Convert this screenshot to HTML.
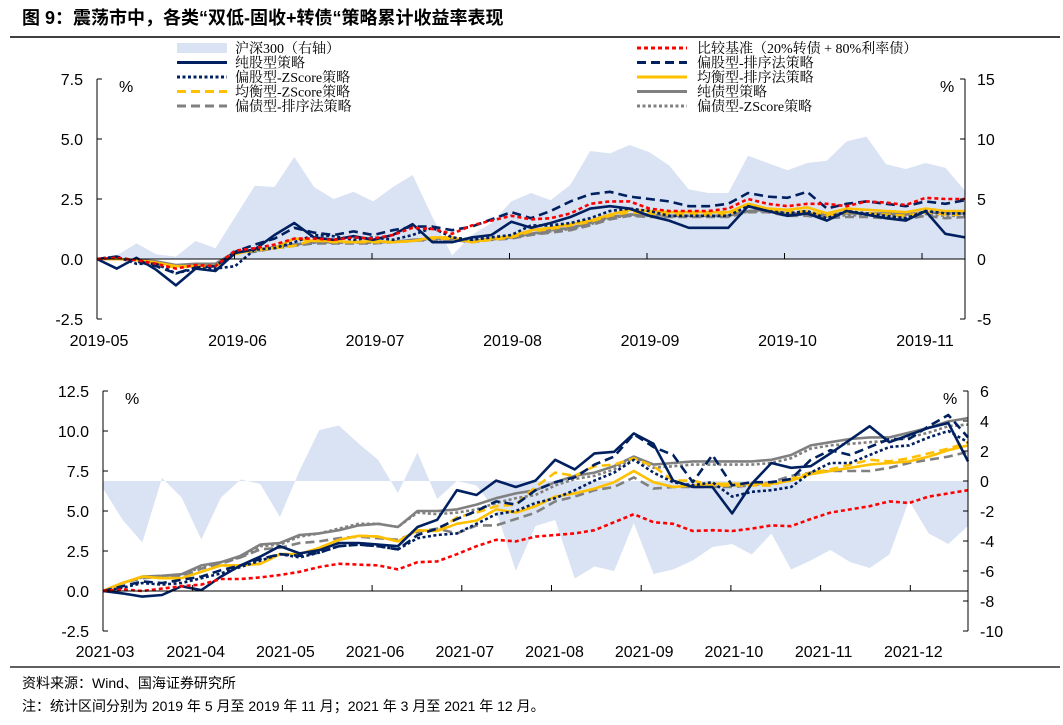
<!DOCTYPE html>
<html><head><meta charset="utf-8">
<style>
html,body{margin:0;padding:0;background:#fff;}
svg{display:block;}
.ax{font-family:"Liberation Sans",Arial,sans-serif;font-size:16px;fill:#000;}
.lg{font-family:"Liberation Serif","Noto Serif CJK SC",serif;font-size:14px;fill:#000;}
.ft{font-family:"Liberation Sans","Noto Sans CJK SC",sans-serif;font-size:14px;fill:#000;}
</style></head>
<body>
<svg id="c" width="1063" height="725" viewBox="0 0 1063 725" xmlns="http://www.w3.org/2000/svg">
<text x="22" y="24" style="font-family:'Liberation Sans','Noto Sans CJK SC',sans-serif;font-size:18px;font-weight:bold">图 9：震荡市中，各类“双低-固收+转债“策略累计收益率表现</text>
<line x1="10" y1="37" x2="1060" y2="37" stroke="#000" stroke-width="1.5"/>
<g id="legend"></g>
<g id="top"></g>
<g id="bot"></g>
<line x1="10" y1="667" x2="1060" y2="667" stroke="#000" stroke-width="1.2"/>
<text x="22" y="688" class="ft">资料来源：Wind、国海证券研究所</text>
<text x="22" y="711" class="ft">注：统计区间分别为 2019 年 5 月至 2019 年 11 月；2021 年 3 月至 2021 年 12 月。</text>
</svg>
<script>
// ---------- 2019 chart data ----------
const topMonths = ["2019-05","2019-06","2019-07","2019-08","2019-09","2019-10","2019-11"];
const topLeftTicks = [7.5,5.0,2.5,0.0,-2.5];
const topRightTicks = [15,10,5,0,-5];
const topHs300 = [0,0.3,1.3,0.4,0.2,1.5,0.9,3.5,6.1,6.0,8.5,6.0,5.0,5.6,4.8,6.0,7.0,3.5,0.3,2.0,3.0,4.8,5.5,4.9,6.2,9.0,8.8,9.5,8.9,7.8,5.8,5.5,5.5,8.6,8.0,7.4,8.0,8.2,9.8,10.2,7.9,7.5,8.0,7.6,5.7];
const topBench = [0,0.05,-0.05,-0.2,-0.4,-0.25,-0.3,0.35,0.45,0.6,0.85,0.85,0.8,0.9,0.85,1.0,1.3,1.25,1.05,1.4,1.6,1.8,1.65,1.7,1.9,2.3,2.4,2.4,2.1,2.0,2.0,2.0,2.1,2.5,2.3,2.2,2.3,2.3,2.2,2.4,2.35,2.25,2.55,2.5,2.5];
const topPureEq = [0,-0.4,0.05,-0.45,-1.1,-0.4,-0.5,0.25,0.4,1.0,1.5,0.9,0.8,0.95,0.8,1.0,1.45,0.7,0.7,0.9,1.0,1.55,1.3,1.5,1.75,2.1,2.2,2.1,1.8,1.6,1.3,1.3,1.3,2.2,2.0,1.8,1.9,1.6,2.0,1.85,1.7,1.6,2.0,1.05,0.9];
const topEqSort = [0,0.1,-0.1,-0.3,-0.6,-0.35,-0.3,0.3,0.6,0.85,1.3,1.1,1.0,1.15,1.0,1.2,1.35,1.35,1.2,1.35,1.65,1.95,1.7,2.0,2.4,2.7,2.8,2.6,2.5,2.4,2.2,2.2,2.3,2.75,2.6,2.55,2.8,2.1,2.3,2.4,2.3,2.2,2.4,2.3,2.45];
const topEqZ = [0,0.1,-0.2,-0.2,-0.6,-0.4,-0.4,-0.3,0.4,0.45,0.7,1.0,0.95,0.8,0.9,0.8,1.0,1.3,0.9,0.8,0.9,1.0,1.4,1.4,1.5,1.7,2.0,2.1,2.0,1.8,1.8,1.8,1.8,2.2,2.0,1.9,2.0,1.7,2.0,1.9,1.8,1.7,2.0,1.9,1.9];
const topBalSort = [0,0,-0.05,-0.15,-0.3,-0.3,-0.3,0.2,0.4,0.45,0.85,0.75,0.75,0.7,0.75,0.7,0.75,0.9,0.9,0.7,0.85,0.95,1.2,1.3,1.45,1.6,1.85,2.05,2.0,1.95,1.95,1.95,1.95,2.3,2.1,2.05,2.15,1.9,2.1,2.05,2.0,1.95,2.1,2.0,2.0];
const topBalZ = [0,0,-0.05,-0.2,-0.35,-0.3,-0.3,0.25,0.35,0.45,0.55,0.8,0.7,0.7,0.7,0.7,0.75,0.85,0.85,0.7,0.8,0.9,1.15,1.25,1.4,1.55,1.8,1.95,1.9,1.85,1.85,1.85,1.85,2.2,2.0,1.95,2.0,1.8,1.95,1.9,1.85,1.8,1.95,1.85,1.85];
const topPureBond = [0,0,-0.05,-0.1,-0.25,-0.2,-0.2,0.3,0.35,0.5,0.6,0.7,0.7,0.7,0.7,0.7,0.8,0.85,0.85,0.75,0.85,0.9,1.05,1.2,1.3,1.5,1.75,1.85,1.85,1.8,1.8,1.8,1.8,2.0,2.05,1.9,1.9,1.85,1.9,1.9,1.9,1.85,1.95,1.9,1.9];
const topBondSort = [0,0,-0.05,-0.15,-0.3,-0.25,-0.2,0.25,0.3,0.45,0.55,0.65,0.65,0.65,0.65,0.7,0.75,0.8,0.8,0.7,0.8,0.85,1.0,1.1,1.2,1.4,1.65,1.8,1.75,1.75,1.75,1.75,1.75,1.95,1.95,1.8,1.8,1.7,1.75,1.75,1.7,1.65,1.8,1.7,1.75];
const topBondZ = [0,0,-0.05,-0.12,-0.28,-0.22,-0.2,0.28,0.32,0.48,0.58,0.68,0.68,0.68,0.68,0.72,0.78,0.82,0.82,0.72,0.82,0.88,1.02,1.15,1.25,1.45,1.7,1.82,1.8,1.78,1.78,1.78,1.78,1.98,2.0,1.85,1.85,1.78,1.82,1.82,1.8,1.75,1.88,1.8,1.8];

// ---------- 2021 chart data ----------
const botMonths = ["2021-03","2021-04","2021-05","2021-06","2021-07","2021-08","2021-09","2021-10","2021-11","2021-12"];
const botLeftTicks = [12.5,10.0,7.5,5.0,2.5,0.0,-2.5];
const botRightTicks = [6,4,2,0,-2,-4,-6,-8,-10];
const botHs300 = [-0.5,-2.6,-4.1,0.2,-1.1,-3.9,-1.1,0.1,-0.2,-2.4,0.7,3.4,3.7,2.5,1.4,-0.8,1.9,-1.2,0,-0.3,-2.0,-6.0,-3.0,-2.6,-6.5,-5.7,-6.0,-2.8,-6.2,-5.9,-5.3,-4.4,-4.2,-4.9,-3.5,-5.9,-5.3,-4.6,-5.4,-5.8,-4.9,-1.3,-3.5,-4.2,-3.0];
const botBench = [0,0.1,0,0.15,0.3,0.4,0.75,0.75,0.85,1.0,1.2,1.5,1.7,1.65,1.6,1.35,1.8,1.85,2.3,2.8,3.2,3.1,3.4,3.5,3.6,3.8,4.3,4.8,4.3,4.2,3.75,3.8,3.75,3.9,4.1,4.05,4.5,4.9,5.1,5.3,5.6,5.5,5.9,6.1,6.3];
const botPureEq = [0,-0.15,-0.35,-0.25,0.3,0.05,0.9,1.6,2.15,2.8,2.35,2.55,3.0,3.0,2.9,2.8,4.0,4.45,6.3,6.0,6.9,6.5,6.9,8.2,7.6,8.6,8.7,9.85,9.2,6.9,6.5,6.5,4.85,6.7,8.0,7.7,7.8,8.6,9.45,10.3,9.3,9.75,10.2,10.5,8.1];
const botEqSort = [0,0.3,0.6,0.5,0.7,0.9,1.3,1.6,2.0,2.3,2.2,2.4,2.8,2.9,2.8,2.6,3.5,3.9,4.5,5.0,5.6,5.4,6.3,6.8,7.1,7.9,8.4,9.8,9.0,8.5,6.8,8.5,6.6,6.8,6.8,7.0,8.2,8.8,8.5,9.0,9.5,9.5,10.3,11.0,9.6];
const botEqZ = [0,0.2,0.5,0.4,0.5,0.8,1.1,1.5,1.9,2.3,2.1,2.4,2.8,2.9,2.8,2.6,3.3,3.5,3.6,4.2,4.8,5.0,5.5,5.8,6.3,6.9,7.4,8.2,7.4,6.8,6.6,6.8,5.9,6.2,6.3,6.5,7.4,8.0,8.0,8.5,9.0,9.1,9.6,10.0,9.3];
const botBalSort = [0,0.5,0.9,0.8,0.8,1.2,1.6,1.6,1.7,2.3,2.3,2.7,3.2,3.45,3.4,3.1,3.8,3.75,4.2,4.4,5.1,4.9,5.3,5.9,6.1,6.4,6.8,7.5,6.8,6.5,6.6,6.7,6.7,6.7,6.7,6.9,7.3,7.5,7.7,7.9,8.0,8.1,8.4,8.8,9.1];
const botBalZ = [0,0.5,0.9,0.8,0.8,1.2,1.6,1.6,1.7,2.3,2.3,2.7,3.2,3.45,3.4,3.1,3.8,3.75,4.6,4.9,5.3,5.4,6.5,7.4,7.2,7.8,7.9,8.3,7.8,6.9,6.9,6.6,6.6,6.6,6.6,7.0,7.4,7.6,7.9,8.2,8.1,8.3,8.6,8.9,9.3];
const botPureBond = [0,0.5,0.9,0.95,1.05,1.6,1.8,2.2,2.9,3.0,3.5,3.6,3.8,4.1,4.2,4.0,5.0,5.0,5.1,5.4,5.8,6.1,6.3,6.8,7.2,7.4,7.8,8.4,7.9,8.0,8.1,8.1,8.1,8.1,8.2,8.5,9.1,9.3,9.5,9.6,9.6,9.9,10.2,10.6,10.8];
const botBondSort = [0,0.5,0.8,0.9,0.9,1.4,1.7,2.1,2.6,2.7,3.0,3.1,3.3,3.4,3.3,3.2,3.7,3.9,3.6,4.1,4.1,4.5,4.9,5.6,5.9,6.3,6.5,7.1,6.4,6.5,6.5,6.5,6.5,6.6,6.8,7.2,7.4,7.5,7.5,7.5,7.7,8.0,8.2,8.4,8.7];
const botBondZ = [0,0.5,0.85,0.95,1.0,1.5,1.8,2.1,2.8,2.9,3.4,3.6,3.9,4.2,4.2,4.0,4.9,4.8,4.9,5.1,5.5,5.8,6.0,6.6,7.0,7.2,7.6,8.3,7.7,7.8,7.9,7.9,7.9,7.9,8.0,8.3,8.9,9.1,9.2,9.3,9.4,9.6,9.9,10.3,10.4];

// ---------- legend labels ----------
const legendLabels = ["沪深300（右轴）","比较基准（20%转债 + 80%利率债）","纯股型策略","偏股型-排序法策略","偏股型-ZScore策略","均衡型-排序法策略","均衡型-ZScore策略","纯债型策略","偏债型-排序法策略","偏债型-ZScore策略"];

const NS = "http://www.w3.org/2000/svg";
function mk(tag, attrs, parent){const e=document.createElementNS(NS,tag);for(const k in attrs)e.setAttribute(k,attrs[k]);parent.appendChild(e);return e;}

const NAVY="#002060", RED="#FF0000", YEL="#FFC000", GRAY="#808080", AREA="#DAE3F3";
const styles = {
  bench:{stroke:RED,dash:"4,3",w:2.6},
  pureEq:{stroke:NAVY,dash:"",w:2.6},
  eqSort:{stroke:NAVY,dash:"9,5",w:2.6},
  eqZ:{stroke:NAVY,dash:"3,2.5",w:2.6},
  balSort:{stroke:YEL,dash:"",w:2.6},
  balZ:{stroke:YEL,dash:"9,5",w:2.6},
  pureBond:{stroke:GRAY,dash:"",w:2.6},
  bondSort:{stroke:GRAY,dash:"9,5",w:2.6},
  bondZ:{stroke:GRAY,dash:"3,2.5",w:2.6}
};

function drawChart(g, cfg){
  const xL=cfg.x0, xR=cfg.x1;
  const yL = v => cfg.zeroL - v*cfg.pxL;
  const yR = v => cfg.zeroR - v*cfg.pxR;
  const xi = (i,n) => xL + i*(xR-xL)/(n-1);
  // area
  let d = "M"+xi(0,cfg.area.length)+","+yR(0);
  cfg.area.forEach((v,i)=>{d+=" L"+xi(i,cfg.area.length).toFixed(1)+","+yR(v).toFixed(1);});
  d += " L"+xR+","+yR(0)+" Z";
  const a = mk("path",{d:d,fill:AREA,stroke:"none"},g);
  
  
  // lines (draw order: bonds first, equities, benchmark)
  cfg.series.forEach(s=>{
    let p="";
    s.data.forEach((v,i)=>{p+=(i?" L":"M")+xi(i,s.data.length).toFixed(1)+","+yL(v).toFixed(1);});
    const st=styles[s.key];
    const e=mk("path",{d:p,fill:"none",stroke:st.stroke,"stroke-width":st.w,"stroke-dasharray":st.dash,"stroke-linejoin":"round"},g);
    
    
  });
  // axes
  const yTop = yL(cfg.lticks[0]), yBot = yL(cfg.lticks[cfg.lticks.length-1]);
  const la = mk("line",{x1:xL,y1:yTop,x2:xL,y2:yBot,stroke:"#000","stroke-width":1},g);
  
  
  const ra = mk("line",{x1:xR,y1:yTop,x2:xR,y2:yBot,stroke:"#000","stroke-width":1},g);
  
  
  const xa = mk("line",{x1:xL,y1:yL(0),x2:xR,y2:yL(0),stroke:"#000","stroke-width":1},g);
  
  
  cfg.lticks.forEach(v=>{
    mk("line",{x1:xL,y1:yL(v),x2:xL+5,y2:yL(v),stroke:"#000"},g);
    const t=mk("text",{x:xL-14,y:yL(v)+6,"text-anchor":"end",class:"ax"},g);
    t.textContent=v.toFixed(1);
    
    
  });
  cfg.rticks.forEach(v=>{
    mk("line",{x1:xR-5,y1:yR(v),x2:xR,y2:yR(v),stroke:"#000"},g);
    const t=mk("text",{x:xR+12,y:yR(v)+6,"text-anchor":"start",class:"ax"},g);
    t.textContent=String(v);
    
    
  });
  const nm = cfg.months.length;
  cfg.months.forEach((m,i)=>{
    const x = xL + i*cfg.mstep;
    if(i>0) mk("line",{x1:x,y1:yL(0),x2:x,y2:yL(0)-6,stroke:"#000"},g);
    const t=mk("text",{x:x+(i==0?2:3),y:cfg.labY,"text-anchor":"middle",class:"ax"},g);
    t.textContent=m;
    
    
  });
  const p1=mk("text",{x:xL+22,y:yTop+13,class:"ax"},g); p1.textContent="%";
  
  
  const p2=mk("text",{x:xR-25,y:yTop+13,class:"ax"},g); p2.textContent="%";
  
  
}

function seriesList(p){
  return [
    {key:"bondSort",name:"bond-sort-line",data:p.bondSort},
    {key:"bondZ",name:"bond-zscore-line",data:p.bondZ},
    {key:"pureBond",name:"pure-bond-line",data:p.pureBond},
    {key:"balZ",name:"balanced-zscore-line",data:p.balZ},
    {key:"balSort",name:"balanced-sort-line",data:p.balSort},
    {key:"eqZ",name:"equity-zscore-line",data:p.eqZ},
    {key:"eqSort",name:"equity-sort-line",data:p.eqSort},
    {key:"pureEq",name:"pure-equity-line",data:p.pureEq},
    {key:"bench",name:"benchmark-line",data:p.bench}
  ];
}

drawChart(document.getElementById("top"),{
  x0:97,x1:965,zeroL:259,pxL:24,zeroR:259,pxR:12,mstep:137.5,labY:346,
  lticks:topLeftTicks,rticks:topRightTicks,months:topMonths,area:topHs300,
  series:seriesList({bench:topBench,pureEq:topPureEq,eqSort:topEqSort,eqZ:topEqZ,balSort:topBalSort,balZ:topBalZ,pureBond:topPureBond,bondSort:topBondSort,bondZ:topBondZ})
});
drawChart(document.getElementById("bot"),{
  x0:103,x1:968,zeroL:591,pxL:16,zeroR:481,pxR:15,mstep:89.7,labY:657,
  lticks:botLeftTicks,rticks:botRightTicks,months:botMonths,area:botHs300,
  series:seriesList({bench:botBench,pureEq:botPureEq,eqSort:botEqSort,eqZ:botEqZ,balSort:botBalSort,balZ:botBalZ,pureBond:botPureBond,bondSort:botBondSort,bondZ:botBondZ})
});

// legend
const lg=document.getElementById("legend");
const legendKeys=["area","bench","pureEq","eqSort","eqZ","balSort","balZ","pureBond","bondSort","bondZ"];
const legendNames=["legend-hs300","legend-benchmark","legend-pure-equity","legend-equity-sort","legend-equity-zscore","legend-balanced-sort","legend-balanced-zscore","legend-pure-bond","legend-bond-sort","legend-bond-zscore"];
legendKeys.forEach((k,i)=>{
  const col=i%2, row=Math.floor(i/2);
  const sx = col?637:177, tx = col?697:235, y = 48+row*14.5;
  const gg=mk("g",{},lg);
  
  
  if(k==="area") mk("rect",{x:sx,y:y-5,width:50,height:10,fill:AREA},gg);
  else { const st=styles[k]; mk("line",{x1:sx,y1:y,x2:sx+50,y2:y,stroke:st.stroke,"stroke-width":3,"stroke-dasharray":st.dash},gg); }
  const t=mk("text",{x:tx,y:y+5,class:"lg"},gg);
  t.textContent=legendLabels[i];
});
</script>
</body></html>
